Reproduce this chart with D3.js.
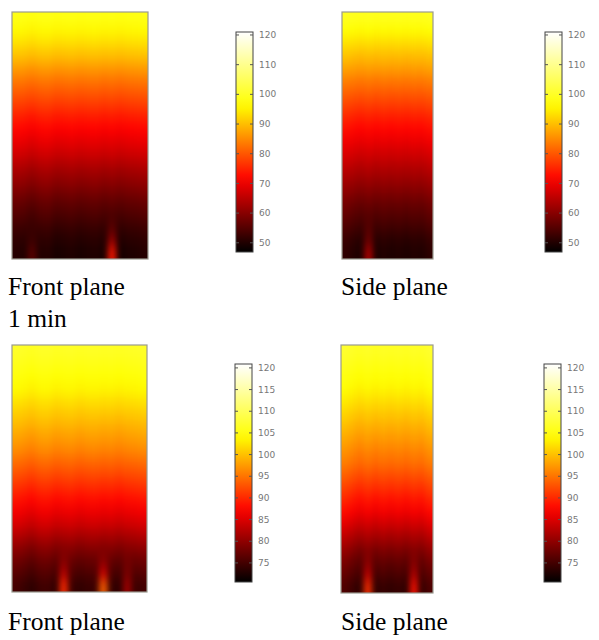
<!DOCTYPE html>
<html><head><meta charset="utf-8">
<script src="https://cdn.jsdelivr.net/npm/d3@7"></script>
<style>body{margin:0;background:#fff}svg{display:block}</style>
</head><body>
<svg id="chart" width="599" height="640"></svg>
<script>
// ---- data ----
const range1 = [46.9, 121.0];          // colour range, 1 min panels
const range2 = [70.6, 120.9];          // colour range, lower panels
const ticks1 = [50, 60, 70, 80, 90, 100, 110, 120];
const ticks2 = [75, 80, 85, 90, 95, 100, 105, 110, 115, 120];

// temperature by height (top -> bottom), 20 bands
const frontProfile1 = [98, 95.5, 93, 90, 86.5, 83, 80, 77, 74, 71.5, 69, 66.5, 63.5, 61, 58.5, 56, 54, 52, 50.5, 49.5];
const sideProfile1  = [99, 96, 93, 90, 87, 83.5, 80.5, 77.5, 74.5, 72, 69.5, 67, 64.5, 62, 59.5, 57, 55, 53, 51, 50];
const frontProfile2 = [106.5, 105.5, 104.5, 103.5, 102, 100.5, 99, 97.5, 96, 94, 92, 90, 88, 86, 84, 81.5, 79, 77, 75.5, 74];
const sideProfile2  = [106.5, 105.5, 104.5, 103.5, 102, 100.5, 99, 97.5, 96, 94.5, 92.5, 90.5, 88.5, 86.5, 84, 81.5, 79, 77, 75.5, 74];

// column deviations (vertical streaks)
const frontCols1 = [1.0, 0.5, -0.8, 0.6, 1.0, -0.4, 0.0, 0.5, -0.3, 0.2, 0.5, -0.4, 0.3, -0.6, 0.2, 0.5, 0.9];
const sideCols1  = [1.5, 0.4, -0.5, 0.6, -0.6, 0.3, -0.4, 0.2, -0.5, 0.3, -0.2, 1.2];
const frontCols2 = [1.0, 0.3, -0.6, 0.6, 0.8, -0.3, 0.2, 0.5, -0.3, 0.2, 0.4, -0.2, 0.2, -0.5, 0.2, 0.4, 0.9];
const sideCols2  = [1.8, 0.5, -0.6, 0.6, -0.6, 0.3, -0.4, 0.3, -0.5, 0.5, -0.2, 1.6];

// warm spots at the bottom edge: column and temperature rise
const frontSpots1 = [{col: 2, rise: 7}, {col: 12, rise: 24}];
const sideSpots1  = [{col: 3, rise: 14}];
const frontSpots2 = [{col: 6, rise: 16}, {col: 11, rise: 20}, {col: 14, rise: 7}];
const sideSpots2  = [{col: 3, rise: 16}, {col: 9, rise: 14}];

const captions1 = ["Front plane", "1 min"];
const captionSide = "Side plane";
const captionFront = "Front plane";

// ---- layout ----
const panels = [
  {box: [12, 148, 12, 259], cb: [236, 253, 32, 252], profile: frontProfile1, cols: frontCols1, spots: frontSpots1, range: range1, ticks: ticks1},
  {box: [342, 433, 12, 259], cb: [545, 562, 32, 252], profile: sideProfile1, cols: sideCols1, spots: sideSpots1, range: range1, ticks: ticks1},
  {box: [12, 147, 345, 592], cb: [235, 252, 364, 582], profile: frontProfile2, cols: frontCols2, spots: frontSpots2, range: range2, ticks: ticks2},
  {box: [341, 433, 345, 593], cb: [544, 561, 364, 582], profile: sideProfile2, cols: sideCols2, spots: sideSpots2, range: range2, ticks: ticks2}
];

const hot = t => {
  const c = v => Math.round(255 * Math.max(0, Math.min(1, v)));
  return `rgb(${c(3 * t)},${c(3 * t - 1)},${c(3 * t - 2)})`;
};

const svg = d3.select("#chart");
svg.append("rect").attr("width", 599).attr("height", 640).attr("fill", "#fff");
const defs = svg.append("defs");

panels.forEach((p, i) => {
  const [x0, x1, y0, y1] = p.box;
  const color = d3.scaleSequential(hot).domain(p.range).clamp(true);
  const nx = p.cols.length, ny = p.profile.length;
  const xs = d3.scaleBand().domain(d3.range(nx)).range([x0, x1]);
  const ys = d3.scaleBand().domain(d3.range(ny)).range([y0, y1]);

  const cells = [];
  p.profile.forEach((v, r) => {
    p.cols.forEach((dv, c) => {
      let val = v + dv * (0.4 + 0.6 * r / (ny - 1));
      p.spots.forEach(s => {
        if (s.col === c) {
          if (r === ny - 1) val += s.rise;
          else if (r === ny - 2) val += s.rise * 0.45;
          else if (r === ny - 3) val += s.rise * 0.15;
        }
      });
      cells.push({r, c, val});
    });
  });

  const f = defs.append("filter").attr("id", "blur" + i)
    .attr("filterUnits", "userSpaceOnUse")
    .attr("x", x0).attr("y", y0).attr("width", x1 - x0).attr("height", y1 - y0)
    .attr("color-interpolation-filters", "sRGB");
  f.append("feGaussianBlur").attr("stdDeviation", "3.2 5.5").attr("result", "b");
  const ct = f.append("feComponentTransfer").attr("in", "b");
  ct.append("feFuncA").attr("type", "linear").attr("slope", 0).attr("intercept", 1);

  const g = svg.append("g").attr("filter", `url(#blur${i})`);
  g.selectAll("rect").data(cells).join("rect")
    .attr("x", d => xs(d.c)).attr("y", d => ys(d.r))
    .attr("width", xs.bandwidth() + 0.5).attr("height", ys.bandwidth() + 0.5)
    .attr("fill", d => color(d.val));

  svg.append("rect").attr("x", x0).attr("y", y0).attr("width", x1 - x0).attr("height", y1 - y0)
    .attr("fill", "none").attr("stroke", "#9a9a90").attr("stroke-width", 1.2);

  // colour bar
  const [cx0, cx1, cy0, cy1] = p.cb;
  const cy = d3.scaleLinear().domain(p.range).range([cy1, cy0]);
  const gid = "grad" + i;
  const grad = defs.append("linearGradient").attr("id", gid)
    .attr("x1", 0).attr("y1", 1).attr("x2", 0).attr("y2", 0);
  grad.selectAll("stop").data(d3.range(0, 1.0001, 0.05)).join("stop")
    .attr("offset", d => d)
    .attr("stop-color", d => color(p.range[0] + d * (p.range[1] - p.range[0])));
  svg.append("rect").attr("x", cx0).attr("y", cy0).attr("width", cx1 - cx0).attr("height", cy1 - cy0)
    .attr("fill", `url(#${gid})`).attr("stroke", "#444").attr("stroke-width", 1);

  const tk = svg.append("g");
  tk.selectAll("line.l").data(p.ticks).join("line").attr("class", "l")
    .attr("x1", cx0).attr("x2", cx0 + 3).attr("y1", d => cy(d)).attr("y2", d => cy(d))
    .attr("stroke", "#555").attr("stroke-width", 1);
  tk.selectAll("line.r").data(p.ticks).join("line").attr("class", "r")
    .attr("x1", cx1 - 3).attr("x2", cx1).attr("y1", d => cy(d)).attr("y2", d => cy(d))
    .attr("stroke", "#555").attr("stroke-width", 1);
  tk.selectAll("text").data(p.ticks).join("text")
    .attr("x", cx1 + 6).attr("y", d => cy(d)).attr("dy", "0.35em")
    .attr("font-family", "DejaVu Sans, sans-serif").attr("font-size", 9)
    .attr("fill", "#777").text(d => d);
});

const serif = "Liberation Serif, Times New Roman, serif";
const fs = 25.5;
svg.append("text").attr("x", 8).attr("y", 295).attr("font-family", serif).attr("font-size", fs).text(captions1[0]);
svg.append("text").attr("x", 8).attr("y", 327).attr("font-family", serif).attr("font-size", fs).text(captions1[1]);
svg.append("text").attr("x", 341).attr("y", 295).attr("font-family", serif).attr("font-size", fs).text(captionSide);
svg.append("text").attr("x", 8).attr("y", 630).attr("font-family", serif).attr("font-size", fs).text(captionFront);
svg.append("text").attr("x", 341).attr("y", 630).attr("font-family", serif).attr("font-size", fs).text(captionSide);
</script>
</body></html>
